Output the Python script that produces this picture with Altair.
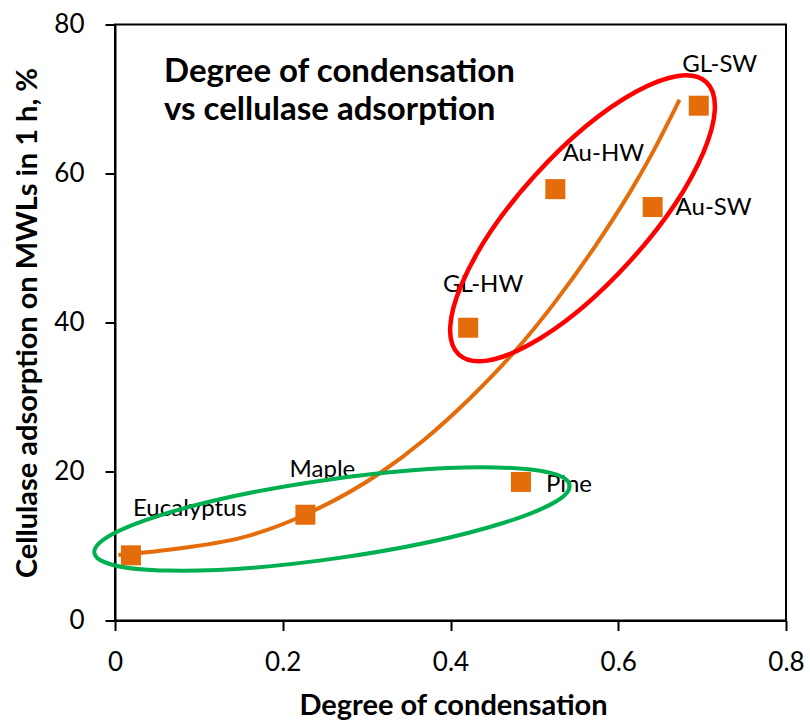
import altair as alt
import pandas as pd

# Lignin samples: degree of condensation vs cellulase adsorption (1 h)
samples = ["Eucalyptus", "Maple", "Pine", "GL-HW", "Au-HW", "Au-SW", "GL-SW"]
condensation = [0.019, 0.227, 0.484, 0.421, 0.525, 0.641, 0.696]
adsorption = [8.75, 14.2, 18.6, 39.3, 57.9, 55.5, 69.1]

# Trend curve, traced along its length
trend_x = [0.004, 0.078, 0.157, 0.2265, 0.316, 0.368, 0.423, 0.475, 0.523, 0.574, 0.614, 0.638, 0.673]
trend_y = [8.8, 9.7, 11.3, 14.2, 19.8, 24.2, 29.8, 35.9, 42.5, 50.5, 57.5, 62.2, 69.9]

# Group outlines: centre of each ellipse in data units
group_names = ["hardwood/softwood natives", "technical lignins"]
group_x = [0.2587, 0.5574]
group_y = [13.62, 53.99]

title_text = ["Degree of condensation", "vs cellulase adsorption"]

ORANGE = "#E46C0A"
FONT = "Lato"

# label placement relative to each marker (pixels)
LABEL_OFFSETS = {
    "Eucalyptus": (59, -39),
    "Maple": (17, -38),
    "Pine": (48, 10),
    "GL-HW": (15, -36),
    "Au-HW": (48, -28),
    "Au-SW": (61, 8),
    "GL-SW": (21, -34),
}

# ellipse styling: colour, semi-axes (px), rotation (deg clockwise), stroke
ELLIPSE_STYLE = [
    ("#00B050", 240, 39.5, 351.9, 4),
    ("#FF0000", 184, 64, 312.2, 4.5),
]


def ellipse_path(ratio):
    """Unit ellipse (rx=1, ry=ratio) as a cubic-bezier SVG path."""
    c = 0.5523
    k = ratio
    kc = k * c
    return (
        f"M -1 0 C -1 {-kc:.4f} {-c} {-k:.4f} 0 {-k:.4f} "
        f"C {c} {-k:.4f} 1 {-kc:.4f} 1 0 "
        f"C 1 {kc:.4f} {c} {k:.4f} 0 {k:.4f} "
        f"C {-c} {k:.4f} -1 {kc:.4f} -1 0 Z"
    )


points = pd.DataFrame({"sample": samples, "dc": condensation, "ads": adsorption})
trend = pd.DataFrame({"dc": trend_x, "ads": trend_y, "order": list(range(len(trend_x)))})
groups = pd.DataFrame({"group": group_names, "dc": group_x, "ads": group_y})

x_scale = alt.Scale(domain=[0, 0.8], nice=False, zero=False)
y_scale = alt.Scale(domain=[0, 80], nice=False, zero=False)

x_enc = alt.X(
    "dc:Q",
    scale=x_scale,
    axis=alt.Axis(
        title="Degree of condensation",
        values=[0, 0.2, 0.4, 0.6, 0.8],
        format=".1~f",
        labelPadding=19,
        labelFlush=False,
        labelOverlap=False,
        titleBaseline="alphabetic",
        titleY=93.8,
        titleX=338,
    ),
)
y_enc = alt.Y(
    "ads:Q",
    scale=y_scale,
    axis=alt.Axis(
        title="Cellulase adsorption on MWLs in 1 h, %",
        values=[0, 20, 40, 60, 80],
        format="d",
        labelPadding=21,
        labelFlush=False,
        labelOverlap=False,
        titleAngle=270,
        titleAlign="center",
        titleBaseline="alphabetic",
        titleX=-78.5,
        titleY=298,
    ),
)

base_x = alt.X("dc:Q", scale=x_scale)
base_y = alt.Y("ads:Q", scale=y_scale)

trend_line = alt.Chart(trend).mark_line(
    color=ORANGE, strokeWidth=4, interpolate="monotone"
).encode(x=x_enc, y=y_enc, order="order:Q")

markers = alt.Chart(points).mark_square(
    color=ORANGE, size=400, opacity=1, filled=True
).encode(x=base_x, y=base_y)

label_layers = []
for name, (dx, dy) in LABEL_OFFSETS.items():
    label_layers.append(
        alt.Chart(points)
        .transform_filter(alt.datum.sample == name)
        .mark_text(
            font=FONT, fontSize=24, color="black", align="center",
            baseline="alphabetic", dx=dx, dy=dy,
        )
        .encode(x=base_x, y=base_y, text="sample:N")
    )

ellipse_layers = []
for i, (color, a, b, angle, sw) in enumerate(ELLIPSE_STYLE):
    ellipse_layers.append(
        alt.Chart(groups)
        .transform_filter(alt.datum.group == group_names[i])
        .mark_point(
            shape=ellipse_path(b / a), size=(2 * a) ** 2, angle=angle,
            filled=False, stroke=color, strokeWidth=sw, opacity=1,
        )
        .encode(x=base_x, y=base_y)
    )

# two-line heading inside the plot area
heading = (
    alt.Chart(pd.DataFrame({"k": [0]}))
    .mark_text(
        font=FONT, fontSize=33, fontWeight="bold", color="black",
        align="left", baseline="alphabetic", lineHeight=38,
        text=title_text,
    )
    .encode(x=alt.value(49), y=alt.value(57))
)

chart = (
    alt.layer(trend_line, markers, *label_layers, *ellipse_layers, heading)
    .properties(
        width=671,
        height=596,
        padding={"left": 115, "top": 24.5, "right": 24, "bottom": 101.5},
        autosize=alt.AutoSizeParams(type="none"),
        background="white",
    )
    .configure_view(stroke="black", strokeWidth=2)
    .configure_axis(
        grid=False,
        domainColor="black",
        domainWidth=2,
        tickColor="black",
        tickWidth=2,
        tickSize=10,
        labelFont=FONT,
        labelFontSize=26,
        labelColor="black",
        titleFont=FONT,
        titleFontSize=29,
        titleFontWeight="bold",
        titleColor="black",
    )
)

chart.save("out.html", embed_options={"renderer": "svg", "actions": False})
